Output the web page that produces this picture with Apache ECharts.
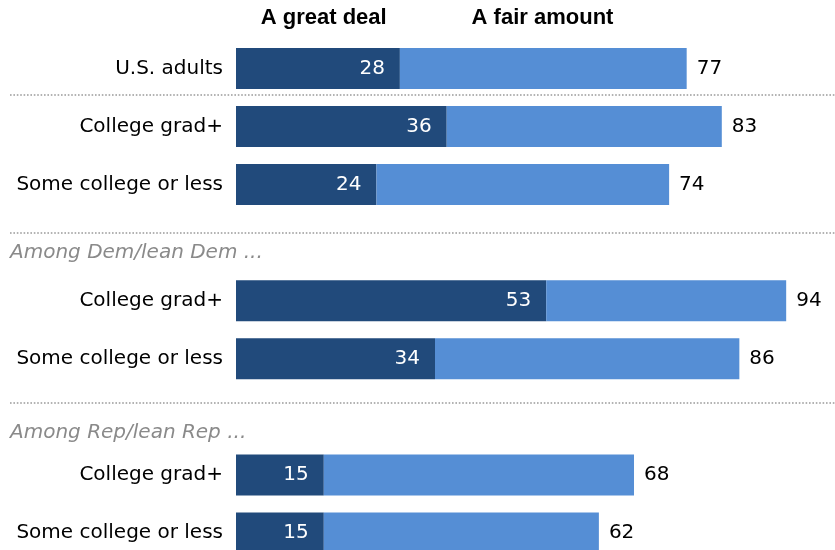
<!DOCTYPE html>
<html>
<head>
<meta charset="utf-8">
<script src="https://cdn.jsdelivr.net/npm/echarts@6/dist/echarts.min.js"></script>
<style>
  html, body { margin: 0; padding: 0; background: #fff; overflow: hidden; }
  /* The last row runs off the bottom edge, so the canvas is taller than the window */
  #chart { width: 835px; height: 562px; }
</style>
</head>
<body>
<div id="chart"></div>
<script>
// Row labels; empty strings are spacer rows that hold the group headings
const categories = ['U.S. adults', 'College grad+', 'Some college or less', '',
  'College grad+', 'Some college or less', '',
  'College grad+', 'Some college or less'];
// Share saying "A great deal"
const greatDeal = [28, 36, 24, null, 53, 34, null, 15, 15];
// Combined share: "A great deal" + "A fair amount"
const totals = [77, 83, 74, null, 94, 86, null, 68, 62];
const seriesNames = ['A great deal', 'A fair amount'];
const groupHeadings = ['Among Dem/lean Dem ...', 'Among Rep/lean Rep ...'];

const fairAmount = totals.map((t, i) => (t == null ? null : t - greatDeal[i]));

const FONT = '"DejaVu Sans", sans-serif';
const DARK = '#214a7b';
const LIGHT = '#558ed5';

const chart = echarts.init(document.getElementById('chart'));

function dotted(y) {
  return {
    type: 'line',
    shape: { x1: 10, y1: y, x2: 835, y2: y },
    style: { stroke: '#9a9a9a', lineWidth: 1.6, lineDash: [1.6, 1.8] }
  };
}

chart.setOption({
  animation: false,
  grid: { left: 236, top: 39.4, width: 585.3, height: 522.6 },
  xAxis: { type: 'value', min: 0, max: 100, show: false },
  yAxis: {
    type: 'category',
    data: categories,
    inverse: true,
    axisLine: { show: false },
    axisTick: { show: false },
    splitLine: { show: false },
    axisLabel: { fontFamily: FONT, fontSize: 20, color: '#000', margin: 13 }
  },
  series: [
    {
      name: seriesNames[0],
      type: 'bar',
      stack: 'total',
      barWidth: 41,
      data: greatDeal,
      itemStyle: { color: DARK },
      label: {
        show: true, position: 'insideRight', distance: 15,
        fontFamily: FONT, fontSize: 20, color: '#fff'
      }
    },
    {
      name: seriesNames[1],
      type: 'bar',
      stack: 'total',
      barWidth: 41,
      data: fairAmount,
      itemStyle: { color: LIGHT },
      label: {
        show: true, position: 'right', distance: 10,
        fontFamily: FONT, fontSize: 20, color: '#000',
        formatter: p => totals[p.dataIndex]
      }
    }
  ],
  graphic: [
    {
      type: 'text', x: 323.7, y: 18,
      style: { text: seriesNames[0], fontFamily: '"Liberation Sans", Arial, sans-serif',
        fontWeight: 'bold', fontSize: 22, fill: '#000', align: 'center', verticalAlign: 'middle' }
    },
    {
      type: 'text', x: 542.5, y: 18,
      style: { text: seriesNames[1], fontFamily: '"Liberation Sans", Arial, sans-serif',
        fontWeight: 'bold', fontSize: 22, fill: '#000', align: 'center', verticalAlign: 'middle' }
    },
    {
      type: 'text', x: 10, y: 253,
      style: { text: groupHeadings[0], fontFamily: FONT, fontStyle: 'italic',
        fontSize: 20, fill: '#8a8a8a', align: 'left', verticalAlign: 'middle' }
    },
    {
      type: 'text', x: 10, y: 433,
      style: { text: groupHeadings[1], fontFamily: FONT, fontStyle: 'italic',
        fontSize: 20, fill: '#8a8a8a', align: 'left', verticalAlign: 'middle' }
    },
    dotted(95),
    dotted(233),
    dotted(403)
  ]
});
</script>
</body>
</html>
